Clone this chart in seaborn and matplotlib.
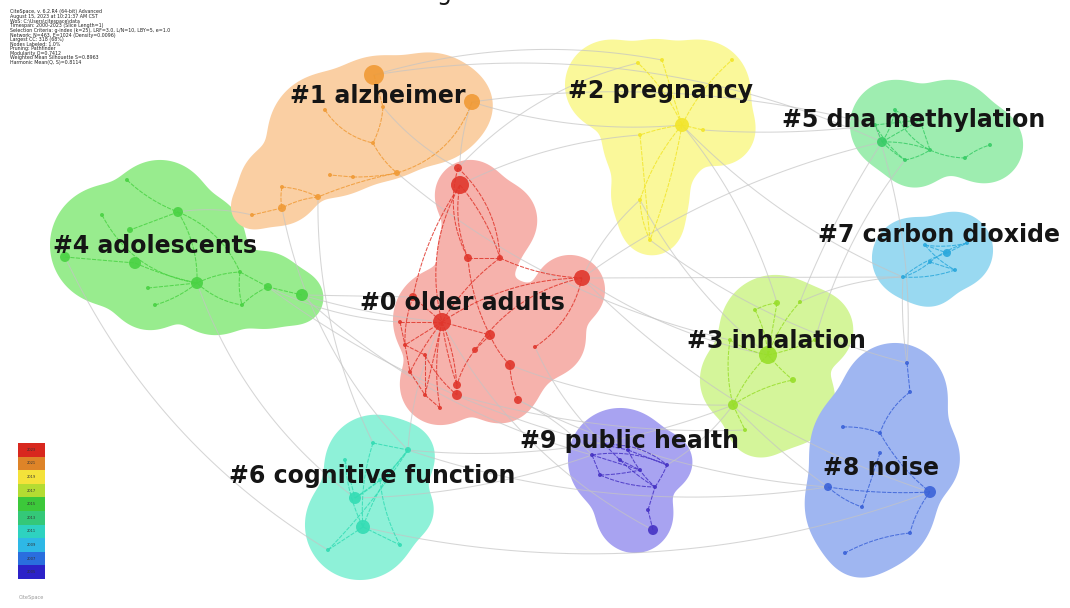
import numpy as np
import pandas as pd
import matplotlib
matplotlib.use("Agg")
import matplotlib.pyplot as plt
from matplotlib.patches import Rectangle
import seaborn as sns

# ---------------- cluster labels ----------------
cluster_ids = [0, 1, 2, 3, 4, 5, 6, 7, 8, 9]
cluster_labels = ["#0 older adults", "#1 alzheimer", "#2 pregnancy", "#3 inhalation",
                  "#4 adolescents", "#5 dna methylation", "#6 cognitive function",
                  "#7 carbon dioxide", "#8 noise", "#9 public health"]
label_x = [360, 290, 568, 687, 53, 782, 229, 818, 823, 520]
label_y = [310, 103, 98, 348, 253, 127, 483, 242, 475, 448]

fill_colors = ["#f6b2ac", "#facfa3", "#faf89a", "#d4f59a", "#98ec8e",
               "#9eedb0", "#8ef1d8", "#99d9f1", "#9fb6f1", "#a8a3f1"]
node_colors = ["#e0362c", "#f09a35", "#f2e52a", "#98de2a", "#49d243",
               "#38cc66", "#33dcb4", "#2aa8dc", "#3a62d8", "#4632c4"]

# ---------------- cluster regions (circle unions: cx, cy, r) ----------------
region_0 = [(470, 195, 35), (500, 220, 37), (478, 250, 40), (445, 320, 52), (500, 340, 60),
            (570, 290, 35), (440, 385, 40), (500, 385, 38), (550, 340, 35)]
region_1 = [(252, 208, 20), (280, 185, 40), (330, 135, 62), (380, 118, 62),
            (430, 108, 55), (458, 105, 32)]
region_2 = [(610, 85, 45), (700, 90, 50), (655, 80, 40), (655, 140, 52),
            (720, 130, 35), (650, 195, 38), (652, 225, 30)]
region_3 = [(775, 330, 55), (815, 330, 38), (745, 380, 45), (790, 400, 45), (760, 425, 32)]
region_4 = [(110, 245, 60), (160, 210, 50), (200, 240, 45), (215, 290, 45),
            (265, 290, 38), (298, 298, 25), (150, 290, 40)]
region_5 = [(895, 125, 45), (950, 125, 45), (985, 145, 38), (915, 155, 32)]
region_6 = [(375, 465, 50), (360, 525, 55), (405, 510, 28), (405, 455, 28)]
region_7 = [(912, 258, 40), (955, 250, 38), (930, 280, 25)]
region_8 = [(895, 395, 52), (880, 450, 70), (870, 505, 65), (920, 460, 38), (860, 545, 30)]
region_9 = [(620, 460, 52), (665, 462, 27), (635, 515, 38)]
regions = [region_0, region_1, region_2, region_3, region_4,
           region_5, region_6, region_7, region_8, region_9]
region_order = [4, 1, 0, 2, 5, 7, 3, 8, 6, 9]

# ---------------- nodes per cluster (x, y, radius) ----------------
nodes_0 = [(458, 168, 4), (460, 185, 9), (468, 258, 4), (500, 258, 3), (582, 278, 8),
           (413, 297, 4), (442, 322, 9), (490, 335, 5), (510, 365, 5), (457, 385, 4),
           (457, 395, 5), (518, 400, 4), (535, 347, 2), (475, 350, 3), (405, 345, 2),
           (410, 372, 2), (425, 395, 2), (440, 408, 2), (425, 355, 2), (400, 322, 2)]
nodes_1 = [(374, 75, 10), (472, 102, 8), (325, 110, 2), (383, 107, 2), (373, 143, 2),
           (397, 173, 3), (353, 177, 2), (318, 197, 3), (282, 208, 4), (252, 215, 2),
           (282, 187, 2), (330, 175, 2)]
nodes_2 = [(682, 125, 7), (638, 63, 2), (662, 60, 2), (732, 60, 2), (703, 130, 2),
           (640, 135, 2), (640, 200, 2), (650, 240, 2)]
nodes_3 = [(768, 355, 9), (733, 405, 5), (777, 303, 3), (800, 302, 2), (755, 310, 2),
           (793, 380, 3), (730, 340, 2), (815, 340, 2), (745, 430, 2)]
nodes_4 = [(178, 212, 5), (130, 230, 3), (65, 257, 5), (135, 263, 6), (197, 283, 6),
           (268, 287, 4), (302, 295, 6), (127, 180, 2), (102, 215, 2), (148, 288, 2),
           (155, 305, 2), (240, 272, 2), (242, 305, 2)]
nodes_5 = [(882, 142, 5), (895, 110, 2), (920, 120, 2), (905, 160, 2), (930, 150, 2),
           (875, 125, 2), (990, 145, 2), (965, 158, 2)]
nodes_6 = [(355, 498, 6), (363, 527, 7), (408, 450, 3), (328, 550, 2), (400, 545, 2),
           (373, 443, 2), (345, 460, 2), (380, 480, 2)]
nodes_7 = [(947, 253, 4), (903, 277, 2), (967, 243, 2), (930, 262, 2), (955, 270, 2),
           (925, 245, 2)]
nodes_8 = [(930, 492, 6), (828, 487, 4), (907, 363, 2), (910, 392, 2), (880, 433, 2),
           (843, 427, 2), (880, 453, 2), (862, 507, 2), (910, 533, 2), (845, 553, 2)]
nodes_9 = [(653, 530, 5), (667, 465, 2), (592, 455, 2), (605, 445, 2), (620, 460, 2),
           (640, 470, 2), (600, 475, 2), (655, 487, 2), (628, 450, 2), (648, 510, 2)]
nodes = [nodes_0, nodes_1, nodes_2, nodes_3, nodes_4,
         nodes_5, nodes_6, nodes_7, nodes_8, nodes_9]

# ---------------- links inside clusters (i, j, bend) ----------------
links_0 = [(1, 2, 0.15), (1, 3, -0.1), (0, 2, 0.2), (1, 6, 0.2), (1, 5, 0.1), (0, 3, -0.2),
           (2, 3, 0), (3, 6, 0.1), (6, 4, -0.15), (3, 4, 0.1), (2, 7, 0.1), (4, 12, -0.2),
           (6, 7, 0), (7, 8, 0.1), (8, 11, 0.1), (6, 9, 0.05), (6, 10, -0.1), (7, 13, 0),
           (13, 9, 0.1), (6, 14, 0), (6, 15, 0.05), (6, 16, 0), (6, 17, 0.1), (14, 15, 0),
           (15, 16, 0), (16, 17, 0), (14, 18, 0), (18, 16, 0), (19, 14, 0), (19, 6, 0),
           (5, 14, 0.1), (18, 10, 0.1), (13, 4, -0.2), (5, 6, 0)]
links_1 = [(2, 4, 0.2), (3, 4, -0.1), (0, 3, 0), (4, 5, 0.1), (1, 5, -0.25), (5, 7, 0.05),
           (7, 8, 0.1), (8, 9, 0), (10, 8, 0.1), (10, 7, -0.1), (6, 11, 0), (6, 5, 0.05)]
links_2 = [(0, 1, 0.1), (0, 2, 0), (0, 3, -0.1), (0, 4, 0), (0, 5, 0.05), (0, 6, 0.1),
           (5, 7, 0), (0, 7, -0.05), (6, 7, 0.1)]
links_3 = [(0, 1, 0.1), (0, 2, 0), (0, 3, -0.1), (0, 4, 0.1), (0, 5, 0.05), (0, 6, -0.1),
           (0, 7, 0.05), (1, 8, 0), (1, 5, -0.1), (6, 1, 0.1), (2, 4, 0.1)]
links_4 = [(7, 0, 0.1), (0, 4, -0.15), (0, 1, 0), (8, 4, 0.25), (2, 3, 0), (3, 4, 0.05),
           (9, 4, 0), (10, 4, 0.1), (4, 11, -0.1), (11, 5, 0), (5, 6, 0), (11, 12, 0.1),
           (12, 5, -0.1), (0, 11, -0.2), (4, 12, 0.15)]
links_5 = [(0, 1, 0.1), (0, 2, 0), (0, 3, 0.05), (0, 4, -0.1), (1, 2, 0.1), (2, 4, 0),
           (3, 4, 0.1), (5, 2, 0), (5, 3, 0.1), (1, 4, 0.2), (4, 7, 0.1), (7, 6, -0.1), (0, 5, 0)]
links_6 = [(0, 2, 0.1), (1, 2, -0.1), (5, 1, 0.1), (3, 2, 0.05), (1, 4, 0), (0, 7, 0),
           (6, 1, 0.1), (5, 2, 0), (3, 1, 0), (7, 4, 0.1), (6, 0, 0)]
links_7 = [(0, 1, 0.1), (0, 2, 0), (1, 3, 0.1), (3, 2, -0.1), (3, 4, 0), (5, 4, 0.1),
           (5, 0, 0), (1, 4, 0.1), (5, 2, 0.1)]
links_8 = [(2, 3, 0), (3, 4, 0.15), (5, 4, -0.1), (4, 0, 0.1), (1, 0, 0.05), (1, 7, 0.1),
           (6, 7, 0), (0, 8, 0.1), (8, 9, 0.1)]
links_9 = [(0, 9, 0), (9, 7, 0), (7, 1, 0.05), (2, 1, -0.15), (3, 1, -0.2), (6, 7, 0.1),
           (2, 5, 0), (4, 5, 0), (3, 4, 0), (8, 1, 0), (6, 5, 0.05), (2, 6, 0), (8, 7, 0.1),
           (4, 7, 0.05), (3, 8, 0)]
links = [links_0, links_1, links_2, links_3, links_4,
         links_5, links_6, links_7, links_8, links_9]

# ---------------- links between clusters (cluster a, node a, cluster b, node b, bend) ----------------
cross_links = [(1, 1, 2, 0, 0.1), (1, 0, 5, 0, -0.15), (1, 1, 5, 5, -0.1), (0, 4, 3, 0, 0.1),
               (0, 4, 8, 0, 0.12), (0, 6, 9, 0, 0.15), (0, 6, 6, 2, 0.1), (4, 6, 0, 6, 0.05),
               (4, 6, 0, 5, 0), (4, 5, 0, 19, 0.1), (1, 8, 6, 2, 0.15), (1, 7, 6, 5, 0.12),
               (4, 4, 6, 0, 0.15), (6, 2, 8, 1, 0.12), (6, 1, 8, 0, 0.15), (6, 2, 3, 1, 0.12),
               (9, 1, 3, 1, 0.1), (9, 2, 0, 11, 0.1), (2, 6, 3, 0, 0.1), (2, 7, 8, 2, 0.1),
               (2, 0, 7, 1, 0.1), (2, 4, 5, 5, 0.05), (2, 0, 3, 2, -0.1), (5, 0, 3, 3, 0.05),
               (5, 3, 3, 7, 0.1), (5, 5, 8, 2, -0.1), (7, 1, 3, 3, 0.1), (7, 1, 8, 2, 0.05),
               (0, 1, 2, 5, -0.1), (0, 0, 2, 1, -0.15), (1, 1, 0, 1, 0.1), (1, 3, 0, 0, 0.1),
               (0, 12, 9, 3, 0.1), (0, 8, 3, 1, 0.1), (0, 11, 8, 1, 0.1), (3, 1, 8, 1, 0.05),
               (0, 4, 5, 0, -0.1), (0, 4, 7, 1, 0), (1, 9, 4, 0, 0.1), (4, 2, 6, 3, 0.15),
               (1, 0, 2, 2, -0.12), (4, 6, 9, 2, 0.12), (1, 5, 3, 6, 0.12), (0, 4, 2, 6, -0.1),
               (4, 5, 9, 3, 0.1), (6, 0, 9, 2, 0.08), (0, 10, 3, 8, 0.08)]

# ---------------- colour legend (time slices) ----------------
legend_years = ["2023", "2021", "2019", "2017", "2015", "2013", "2011", "2009", "2007", "2005"]
legend_colors = ["#d8281e", "#de8428", "#f4e23a", "#b4dc32", "#3cc83a",
                 "#34c878", "#2ed2c0", "#2eb8e6", "#2a6ede", "#2c22c8"]

header_lines = ["CiteSpace, v. 6.2.R4 (64-bit) Advanced",
                "August 15, 2023 at 10:21:37 AM CST",
                "WoS: C:\\Users\\citespace\\data",
                "Timespan: 2000-2023 (Slice Length=1)",
                "Selection Criteria: g-index (k=25), LRF=3.0, L/N=10, LBY=5, e=1.0",
                "Network: N=463, E=1024 (Density=0.0096)",
                "Largest CC: 318 (68%)",
                "Nodes Labeled: 1.0%",
                "Pruning: Pathfinder",
                "Modularity Q=0.7412",
                "Weighted Mean Silhouette S=0.8963",
                "Harmonic Mean(Q, S)=0.8114"]


def curve(p0, p1, bend, n=28):
    """Quadratic Bezier between two points, bowed sideways by `bend`."""
    p0 = np.asarray(p0, float)
    p1 = np.asarray(p1, float)
    d = p1 - p0
    normal = np.array([-d[1], d[0]])
    ctrl = (p0 + p1) / 2 + bend * normal
    t = np.linspace(0, 1, n)[:, None]
    return (1 - t) ** 2 * p0 + 2 * (1 - t) * t * ctrl + t ** 2 * p1


# node table
node_rows = []
for c in cluster_ids:
    for (x, y, r) in nodes[c]:
        node_rows.append({"x": x, "y": y, "r": r, "cluster": c})
node_df = pd.DataFrame(node_rows)

# intra-cluster link table
link_rows = []
eid = 0
for c in cluster_ids:
    for (i, j, b) in links[c]:
        pts = curve(nodes[c][i][:2], nodes[c][j][:2], b)
        for px, py in pts:
            link_rows.append({"x": px, "y": py, "eid": eid, "cluster": c})
        eid += 1
link_df = pd.DataFrame(link_rows)

# inter-cluster link table
cross_rows = []
for k, (ca, ia, cb, ib, b) in enumerate(cross_links):
    pts = curve(nodes[ca][ia][:2], nodes[cb][ib][:2], b, n=40)
    for px, py in pts:
        cross_rows.append({"x": px, "y": py, "eid": k})
cross_df = pd.DataFrame(cross_rows)

# ---------------- drawing ----------------
sns.set_theme(style="white")
plt.rcParams["font.family"] = ["DejaVu Sans"]

W, H = 1070, 608
fig = plt.figure(figsize=(W / 100, H / 100), dpi=100)
ax = fig.add_axes([0, 0, 1, 1])
ax.set_xlim(0, W)
ax.set_ylim(H, 0)
ax.set_axis_off()

# cluster areas: smooth union of discs (soft-min of signed distances)
gx = np.arange(0, W + 2, 1.5)
gy = np.arange(0, H + 2, 1.5)
GX, GY = np.meshgrid(gx, gy)
k_soft = 7.0
for c in region_order:
    dist = np.stack([np.hypot(GX - cx, GY - cy) - r for (cx, cy, r) in regions[c]])
    m = dist.min(axis=0)
    field = m - k_soft * np.log(np.exp(-(dist - m) / k_soft).sum(axis=0))
    ax.contourf(GX, GY, field, levels=[-1e6, 0], colors=[fill_colors[c]], zorder=1,
                antialiased=True)

# grey links between clusters
sns.lineplot(data=cross_df, x="x", y="y", units="eid", estimator=None, sort=False,
             color="#c4c4c4", lw=0.75, alpha=0.7, ax=ax, legend=False, zorder=2)

# coloured links inside clusters
palette = {c: node_colors[c] for c in cluster_ids}
sns.lineplot(data=link_df, x="x", y="y", units="eid", estimator=None, sort=False,
             hue="cluster", palette=palette, lw=0.75, alpha=0.85, ax=ax, legend=False,
             zorder=3, linestyle=(0, (4, 1.2)))

# nodes
size_map = {r: (2 * r * 0.72) ** 2 for r in sorted(node_df["r"].unique())}
sns.scatterplot(data=node_df, x="x", y="y", hue="cluster", palette=palette,
                size="r", sizes=size_map, linewidth=0, alpha=0.9, ax=ax,
                legend=False, zorder=4)

# cluster labels
for c in cluster_ids:
    ax.text(label_x[c], label_y[c], cluster_labels[c], fontsize=17, fontweight="bold",
            color="#151515", ha="left", va="baseline", zorder=6)

# time-slice colour legend
bar_x, bar_top, bar_w, band_h = 18, 443, 27, 13.6
for k, col in enumerate(legend_colors):
    ax.add_patch(Rectangle((bar_x, bar_top + k * band_h), bar_w, band_h,
                           facecolor=col, edgecolor="none", zorder=5))
    ax.text(bar_x + bar_w / 2, bar_top + (k + 0.5) * band_h, legend_years[k],
            fontsize=2.6, color="#333333", ha="center", va="center", zorder=6)
ax.text(31, 597, "CiteSpace", fontsize=3.6, color="#9a9a9a", ha="center", va="center")

# run header
for k, line in enumerate(header_lines):
    ax.text(10, 12 + k * 4.6, line, fontsize=3.4, color="#222222", ha="left", va="center")

# descender of the caption line running above the frame
ax.text(437, 0, "g", fontsize=17, color="#151515", ha="left", va="baseline", clip_on=False)

fig.savefig("out.png", dpi=100)
